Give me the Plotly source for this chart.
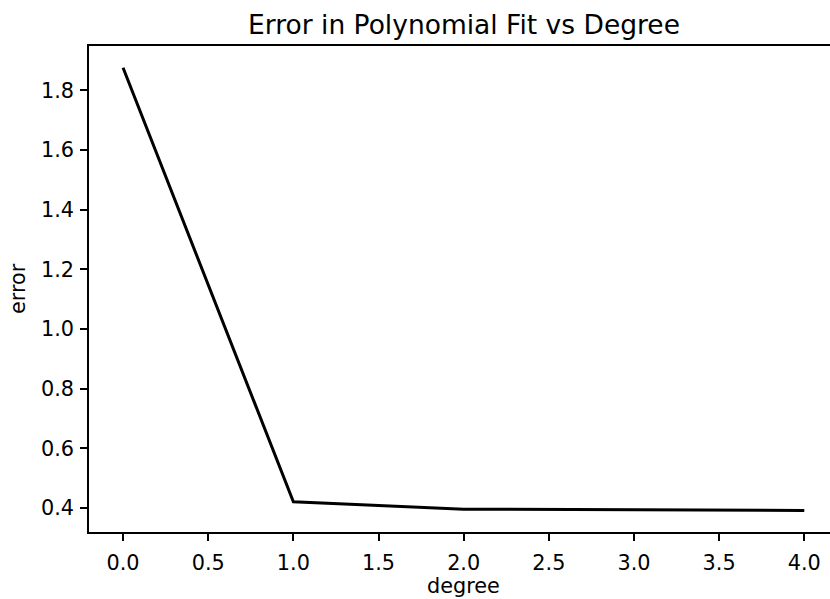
import plotly.graph_objects as go

degree = [0, 1, 2, 3, 4]
error = [1.876, 0.421, 0.396, 0.393, 0.392]
x_ticks = [0.0, 0.5, 1.0, 1.5, 2.0, 2.5, 3.0, 3.5, 4.0]
y_ticks = [0.4, 0.6, 0.8, 1.0, 1.2, 1.4, 1.6, 1.8]

W, H = 830, 599
L, R, T, B = 88.5, 830, 45.7, 532.3
FONT = "DejaVu Sans"

fig = go.Figure()
fig.add_trace(go.Scatter(x=degree, y=error, mode="lines",
                         line=dict(color="black", width=3)))

axis_common = dict(showgrid=False, zeroline=False, showline=True,
                   linecolor="black", linewidth=1.6, ticks="outside",
                   ticklen=7, tickwidth=1.6, tickcolor="black",
                   tickfont=dict(family=FONT, size=20.8, color="black"))

fig.update_layout(
    width=W, height=H,
    margin=dict(l=L, r=W - R, t=T, b=H - B, pad=0),
    paper_bgcolor="white", plot_bgcolor="white",
    showlegend=False,
    xaxis=dict(range=[-0.2, 4.151], tickvals=x_ticks,
               ticktext=[f"{v:.1f}" for v in x_ticks], mirror=True,
               ticklabelstandoff=4, **axis_common),
    yaxis=dict(range=[0.3196, 1.949], tickvals=y_ticks,
               ticktext=[f"{v:.1f}" for v in y_ticks], mirror=False,
               ticklabelstandoff=2, **axis_common),
)

pw = R - L
ph = B - T
def px(xp):
    return (xp - L) / pw
def py(yp):
    return (B - yp) / ph

fig.add_annotation(text="Error in Polynomial Fit vs Degree", xref="paper", yref="paper",
                   x=px(464.2), y=py(24), xanchor="center", yanchor="middle",
                   showarrow=False, font=dict(family=FONT, size=26.5, color="black"))
fig.add_annotation(text="error", xref="paper", yref="paper",
                   x=px(17.5), y=py(289), xanchor="center", yanchor="middle",
                   textangle=-90, showarrow=False,
                   font=dict(family=FONT, size=20.8, color="black"))
fig.add_annotation(text="degree", xref="paper", yref="paper",
                   x=px(463.5), y=py(586), xanchor="center", yanchor="middle",
                   showarrow=False, font=dict(family=FONT, size=20.8, color="black"))

fig.write_html("out.html")
